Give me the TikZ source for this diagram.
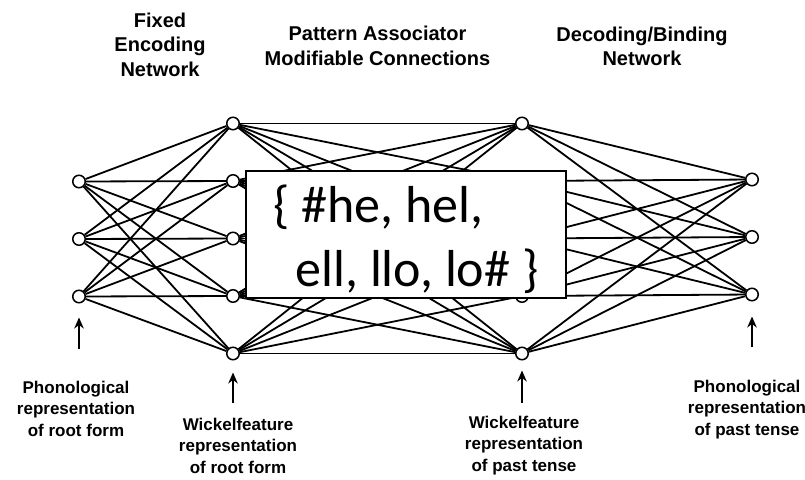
\documentclass[tikz,border=0pt]{standalone}
\usepackage{fontspec}
\setmainfont{Liberation Sans}
\newfontfamily\slidefont{Carlito}
\usepackage{tikz}
\usetikzlibrary{arrows.meta, positioning, calc}
\tikzstyle{unit} = [circle, draw=black, fill=white, line width=1.5pt, minimum size=12.5pt, inner sep=0pt]
\tikzstyle{arrow} = [line width=2.2pt,-{Stealth[length=11pt,width=9.5pt]}]

\begin{document}
\begin{tikzpicture}[x=1pt, y=-1pt,
		link/.style={line width=1.8pt},
		heading/.style={align=center, anchor=base, inner sep=0pt, font=\fontsize{20}{24.5}\selectfont\bfseries},
		caption/.style={align=center, anchor=base, inner sep=0pt, font=\fontsize{17}{21.5}\selectfont\bfseries},
		setbox/.style={rectangle, draw=black, fill=white, line width=1.8pt, inner sep=4pt, minimum width=320pt, minimum height=127pt, align=left, text height=110pt, text depth=5.6pt, font=\slidefont\fontsize{52}{64}\selectfont}]
		
		\fill[white] (0,0) rectangle (805,479);
		\useasboundingbox (0,0) rectangle (805,479);
		
		% the four layers of units
		\foreach \i in {1,2,3} {
			\node (a\i) [unit] at (79,124+57.5*\i) {};
			\node (d\i) [unit] at (752,122+57.5*\i) {};
		}
		\foreach \i in {1,...,5} {
			\node (b\i) [unit] at (233,66+57.5*\i) {};
			\node (c\i) [unit] at (522,66+57.5*\i) {};
		}
		
		% every unit feeds every unit of the next layer
		\foreach \i in {1,2,3}
			\foreach \j in {1,...,5} {
				\draw[link] (a\i) -- (b\j);
				\draw[link] (c\j) -- (d\i);
			}
		\foreach \i in {1,...,5}
			\foreach \j in {1,...,5}
				\draw[link] (b\i) -- (c\j);
		
		% base anchor sits on the last line
		\node (fixed) [heading] at (160,76) {Fixed\\Encoding\\Network};
		\node (assoc) [heading] at (377.5,65) {Pattern Associator\\Modifiable Connections};
		\node (decode) [heading] at (642,65.7) {Decoding/Binding\\Network};
		
		\draw[arrow] ($(a3)+(0,52)$) -- ($(a3)+(0,21)$);
		\draw[arrow] ($(b5)+(0,49.5)$) -- ($(b5)+(0,19)$);
		\draw[arrow] ($(c5)+(0,49.5)$) -- ($(c5)+(0,17)$);
		\draw[arrow] ($(d3)+(0,52.5)$) -- ($(d3)+(0,22)$);
		
		\node (phonroot) [caption] at (76,436) {Phonological\\representation\\of root form};
		\node (wickroot) [caption] at (238,473) {Wickelfeature\\representation\\of root form};
		\node (wickpast) [caption] at (524,471) {Wickelfeature\\representation\\of past tense};
		\node (phonpast) [caption] at (747,435) {Phonological\\representation\\of past tense};
		
		\node (wickelset) [setbox] at (406,234.5) {\{ \#he, hel,\\\hspace*{22pt}ell, llo, lo\# \}};
	\end{tikzpicture}
\end{document}
